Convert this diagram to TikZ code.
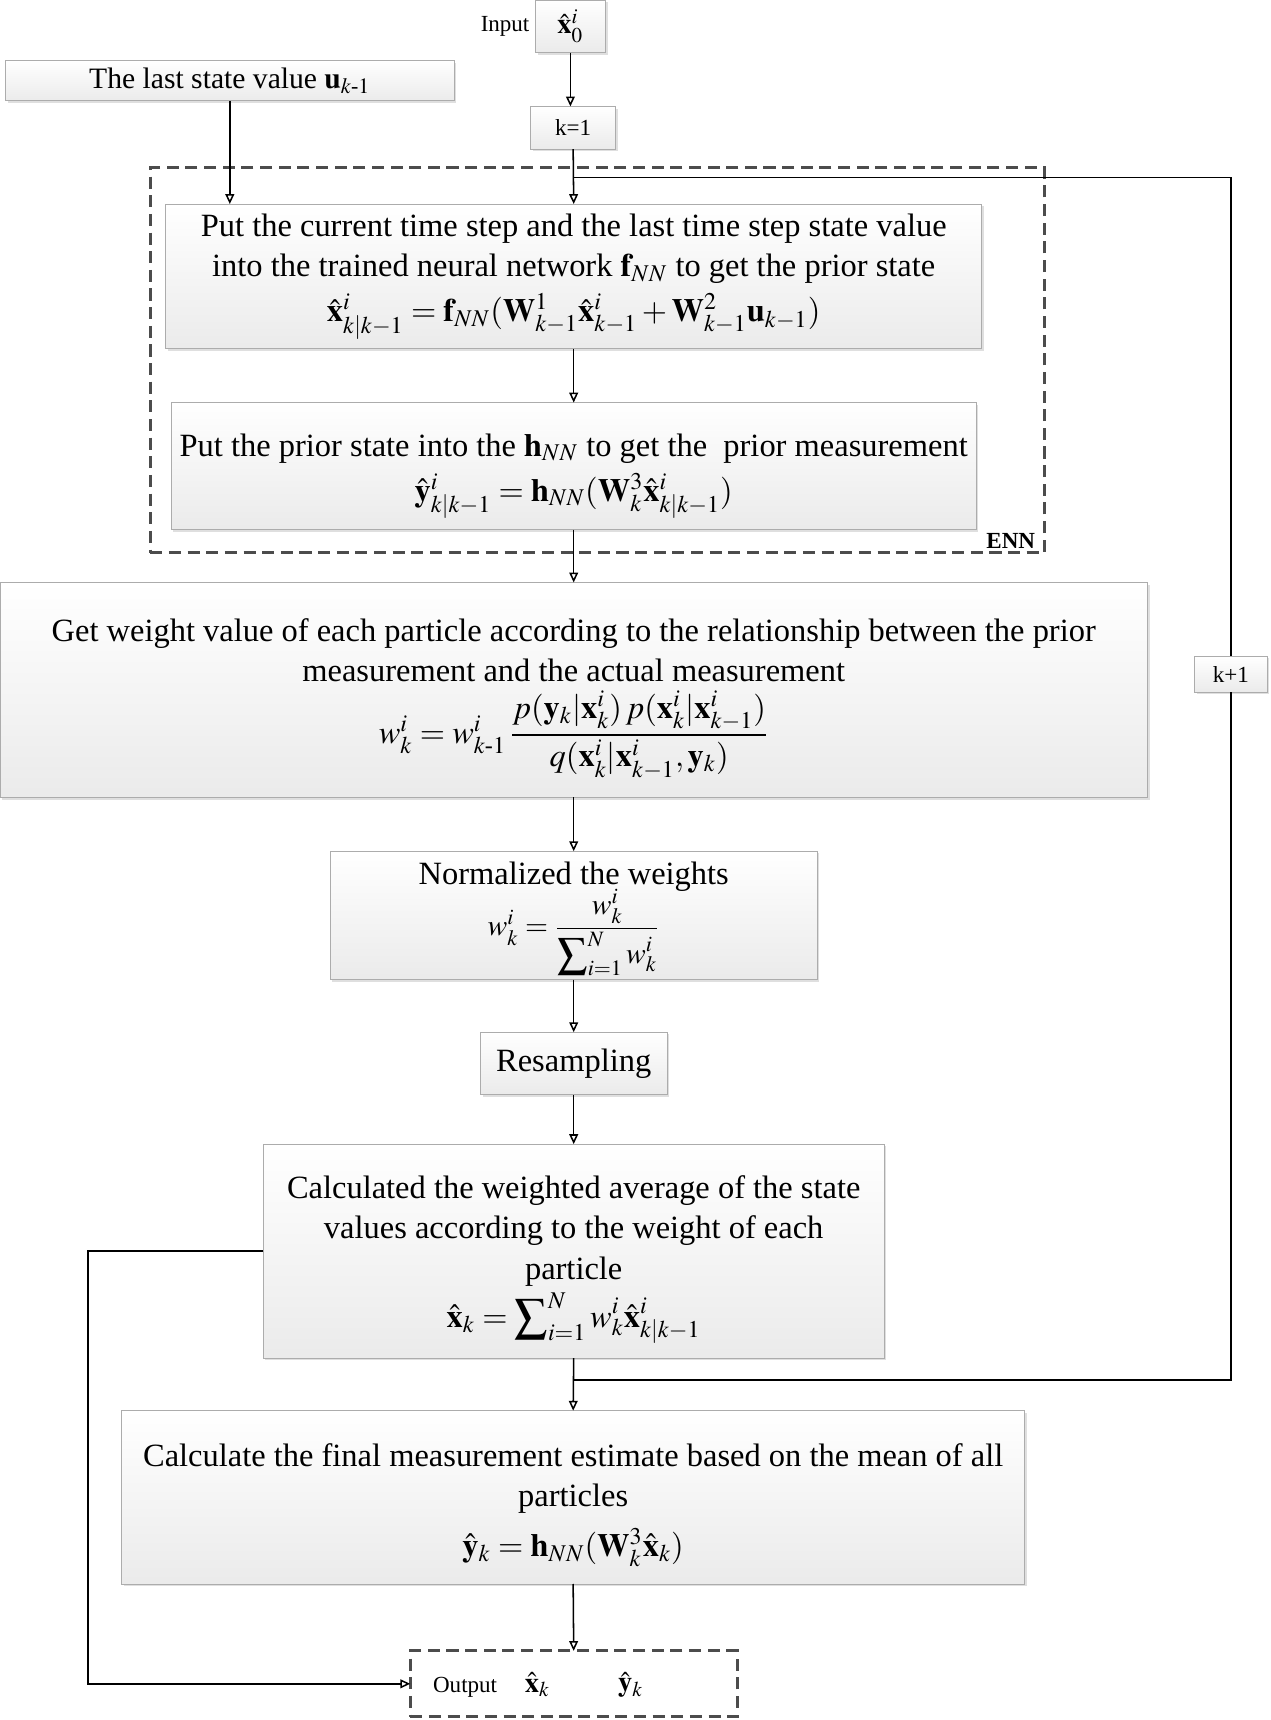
\documentclass[tikz,border=0pt]{standalone}
\usepackage{amsmath}
\usepackage{mathptmx}
\usepackage{fontspec}
\setmainfont{Liberation Serif}
\usetikzlibrary{arrows.meta,shadows}
\begin{document}
\begin{tikzpicture}[x=0.5pt,y=-0.5pt,
  box/.style={draw=gray!65, top color=white, bottom color=gray!16, align=center,
    inner sep=1pt, outer sep=0pt, font=\fontsize{14.8}{18.5}\selectfont,
    drop shadow={opacity=0.25, shadow xshift=1pt, shadow yshift=-1pt}},
  txt/.style={align=center, inner sep=0pt, font=\fontsize{14.8}{18.5}\selectfont},
  smallbox/.style={box, font=\fontsize{10.5}{12}\selectfont},
  dashbox/.style={draw=black!70, dash pattern=on 5.5pt off 3pt, line width=1.4pt, outer sep=0pt, inner sep=0pt},
  arr/.style={line width=0.7pt, -{Triangle[open,length=4.5pt,width=4pt]}},
  ln/.style={line width=0.7pt},
  lbl/.style={font=\fontsize{10.5}{12}\selectfont, inner sep=1pt}
]
\useasboundingbox (0,0) rectangle (1158,1568);

% ENN frame
\node[dashbox, minimum width=407.5pt, minimum height=175.5pt] (enn) at (544.5,328.5) {};
\node[lbl, font=\fontsize{10.5}{12}\selectfont\bfseries, anchor=south east] (ennl) at ([xshift=-3pt,yshift=1pt]enn.south east) {ENN};

% top
\node[lbl, anchor=east] (inl) at (485,24) {Input};
\node[smallbox, minimum width=32pt, minimum height=24pt, font=\fontsize{13}{14}\selectfont] (inp) at (520,24) {$\hat{\mathbf{x}}_0^i$};
\node[box, minimum width=204.5pt, minimum height=18.5pt, font=\fontsize{13.5}{16}\selectfont] (last) at (209.5,73.5) {The last state value $\mathbf{u}_{k\text{-}1}$};
\node[smallbox, minimum width=38.5pt, minimum height=19.5pt] (k1) at (522.5,116.5) {k=1};

% main boxes
\node[box, minimum width=372pt, minimum height=66pt] (b1) at (523,252)
 {Put the current time step and the last time step state value\\
  into the trained neural network $\mathbf{f}_{NN}$ to get the prior state\\[2pt]
  $\hat{\mathbf{x}}_{k|k-1}^i=\mathbf{f}_{NN}(\mathbf{W}_{k-1}^1\hat{\mathbf{x}}_{k-1}^i+\mathbf{W}_{k-1}^2\mathbf{u}_{k-1})$};

\node[box, minimum width=367pt, minimum height=58pt] (b2) at (523,425) {};
\node[txt] (t2) at (523,434)
 {Put the prior state into the $\mathbf{h}_{NN}$ to get the\ \ prior measurement\\[2pt]
  $\hat{\mathbf{y}}_{k|k-1}^i=\mathbf{h}_{NN}(\mathbf{W}_k^3\hat{\mathbf{x}}_{k|k-1}^i)$};

\node[box, minimum width=523pt, minimum height=98pt] (b3) at (523,629) {};
\node[txt] (t3) at (523,637)
 {Get weight value of each particle according to the relationship between the prior\\
  measurement and the actual measurement\\[3pt]
  $w_k^i=w_{k\text{-}1}^i\,\dfrac{p(\mathbf{y}_k|\mathbf{x}_k^i)\,p(\mathbf{x}_k^i|\mathbf{x}_{k-1}^i)}{q(\mathbf{x}_k^i|\mathbf{x}_{k-1}^i,\mathbf{y}_k)}$};

\node[box, minimum width=222pt, minimum height=58.5pt] (b4) at (523,834.5) {};
\node[txt] (t4) at (523,838)
 {Normalized the weights\\[-2pt]
  {\fontsize{13.5}{16}\selectfont$w_k^i=\dfrac{w_k^i}{\displaystyle\sum\nolimits_{i=1}^{N}w_k^i}$}};

\node[box, minimum width=85pt, minimum height=28.5pt] (res) at (523,969.5) {Resampling};

\node[box, minimum width=283pt, minimum height=97.5pt] (b6) at (523,1140.5) {};
\node[txt] (t6) at (523,1148)
 {Calculated the weighted average of the state\\
  values according to the weight of each\\
  particle\\[2pt]
  $\hat{\mathbf{x}}_k=\displaystyle\sum\nolimits_{i=1}^{N}w_k^i\hat{\mathbf{x}}_{k|k-1}^i$};

\node[box, minimum width=411.5pt, minimum height=79pt] (b7) at (522.5,1365) {};
\node[txt] (t7) at (522.5,1372)
 {Calculate the final measurement estimate based on the mean of all\\
  particles\\[4pt]
  $\hat{\mathbf{y}}_k=\mathbf{h}_{NN}(\mathbf{W}_k^3\hat{\mathbf{x}}_k)$};

\node[dashbox, fill=white, minimum width=149pt, minimum height=30pt] (out) at (523,1535) {};
\node[lbl] (outl) at (424,1538) {Output};
\node[lbl, font=\fontsize{13}{14}\selectfont] (outx) at (490,1536) {$\hat{\mathbf{x}}_k$};
\node[lbl, font=\fontsize{13}{14}\selectfont] (outy) at (575,1536) {$\hat{\mathbf{y}}_k$};

\node[smallbox, minimum width=33pt, minimum height=16.5pt] (kp1) at (1122,614.5) {k+1};

% junction points
\coordinate (j2) at (522.5,162);
\coordinate (j1) at (522.5,1258);

% connectors
\draw[arr] (inp.south) -- (inp.south |- k1.north);
\draw[arr] (k1.south) -- (b1.north);
\draw[arr] (last.south) -- (last.south |- b1.north);
\draw[arr] (b1.south) -- (b2.north);
\draw[arr] (b2.south) -- (b3.north);
\draw[arr] (b3.south) -- (b4.north);
\draw[arr] (b4.south) -- (res.north);
\draw[arr] (res.south) -- (b6.north);
\draw[arr] (b6.south) -- (b7.north);
\draw[arr] (b7.south) -- (out.north);
\draw[ln] (j1) -| (kp1.south);
\draw[ln] (kp1.north) |- (j2);
\draw[arr] (b6.west) -- ++(-160,0) |- (out.west);
\end{tikzpicture}
\end{document}
